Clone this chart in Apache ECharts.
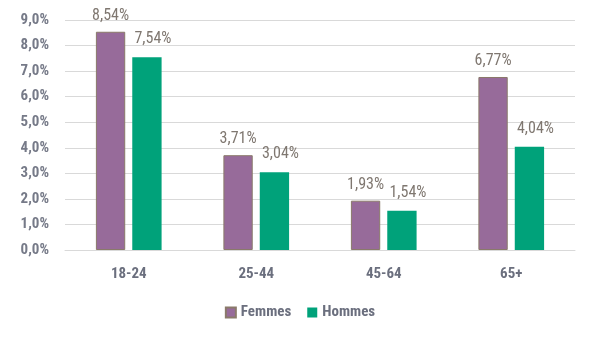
<!DOCTYPE html>
<html><head><meta charset="utf-8">
<script src="https://cdn.jsdelivr.net/npm/echarts@6/dist/echarts.min.js"></script>
<style>html,body{margin:0;padding:0;background:#fff}#c{width:600px;height:339px}</style>
</head><body><div id="c"></div>
<script>
const categories = ['18-24', '25-44', '45-64', '65+'];
const femmes = [8.54, 3.71, 1.93, 6.77];
const hommes = [7.54, 3.04, 1.54, 4.04];
const seriesNames = ['Femmes', 'Hommes'];
const fmt = (v, d) => v.toFixed(d).replace('.', ',') + '%';
const font = '"Liberation Sans Narrow", "Roboto Condensed", "Liberation Sans", sans-serif';
const chart = echarts.init(document.getElementById('c'));
chart.setOption({
  animation: false,
  grid: { left: 65, right: 25, top: 20, bottom: 89, containLabel: false },
  legend: {
    bottom: 14, left: 'center', itemWidth: 10, itemHeight: 10, itemGap: 16,
    icon: 'rect',
    textStyle: { color: '#6b6f7e', fontSize: 15, fontFamily: font, fontWeight: 'bold' },
    data: seriesNames
  },
  xAxis: {
    type: 'category', data: categories,
    axisLine: { lineStyle: { color: '#d9d9d9', width: 1 } },
    axisTick: { show: false },
    axisLabel: { color: '#6b6f7e', fontSize: 15, fontFamily: font, fontWeight: 'bold', margin: 17 }
  },
  yAxis: {
    type: 'value', min: 0, max: 9, interval: 1,
    axisLine: { show: false }, axisTick: { show: false },
    splitLine: { lineStyle: { color: '#d9d9d9', width: 1 } },
    axisLabel: { color: '#767a88', fontSize: 15, fontFamily: font, fontWeight: 'bold', margin: 16,
      formatter: v => fmt(v, 1) }
  },
  series: [
    { name: seriesNames[0], type: 'bar', data: femmes, barWidth: '23%', barGap: '24%',
      itemStyle: { color: '#976b9a', borderColor: '#8a7a6a', borderWidth: 1 },
      label: { show: true, position: 'top', distance: 8, offset: [0, 0], color: '#7f7770',
        fontSize: 16, fontFamily: font, formatter: p => fmt(p.value, 2) } },
    { name: seriesNames[1], type: 'bar', data: hommes, barWidth: '23%',
      itemStyle: { color: '#00a27a' },
      label: { show: true, position: 'top', distance: 10, offset: [6, 0], color: '#7f7770',
        fontSize: 16, fontFamily: font, formatter: p => fmt(p.value, 2) } }
  ]
});
</script></body></html>
